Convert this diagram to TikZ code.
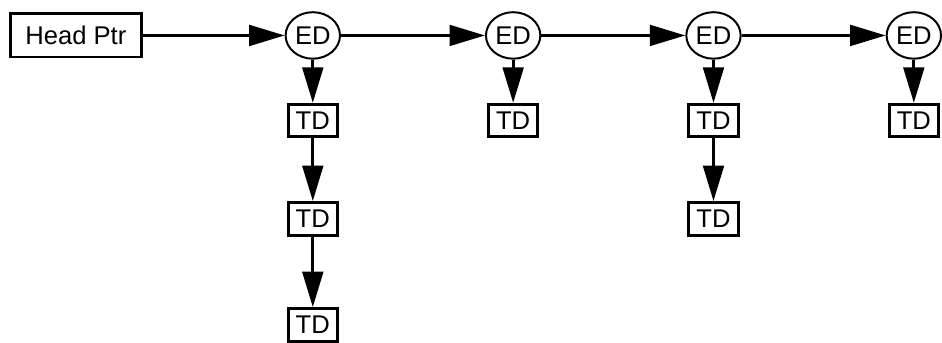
\documentclass[tikz,border=0pt]{standalone}
\usepackage{fontspec}
\setmainfont{Liberation Sans}
\usetikzlibrary{positioning,arrows.meta,shapes.geometric}
\tikzset{
  lbl/.style={font=\fontsize{13}{15}\selectfont, inner sep=0pt},
  ptrbox/.style={lbl, draw, line width=1.5pt, minimum width=23.4mm,
                 minimum height=7.7mm},
  edesc/.style={lbl, draw, ellipse, line width=1pt, minimum width=9.7mm,
                minimum height=8.3mm},
  tdesc/.style={lbl, draw, line width=1.5pt, minimum width=8.8mm,
                minimum height=5.8mm},
  link/.style={-{Triangle[length=18pt,width=10.5pt]}, line width=1.5pt},
}

\begin{document}
\begin{tikzpicture}

%% ── head pointer and the endpoint list ──────────────────────────────────
\node[ptrbox] (head) {Head Ptr};
\node[edesc, right=25.3mm of head] (ed1) {ED};
\node[edesc, right=25.7mm of ed1] (ed2) {ED};
\node[edesc, right=25.7mm of ed2] (ed3) {ED};
\node[edesc, right=25.7mm of ed3] (ed4) {ED};

\draw[link] (head) -- (ed1);
\draw[link] (ed1) -- (ed2);
\draw[link] (ed2) -- (ed3);
\draw[link] (ed3) -- (ed4);

%% ── transfer descriptors queued under each endpoint ─────────────────────
\node[tdesc, below=7.7mm of ed1] (td11) {TD};
\node[tdesc, below=11.2mm of td11] (td12) {TD};
\node[tdesc, below=12.6mm of td12] (td13) {TD};
\node[tdesc, below=7.7mm of ed2] (td21) {TD};
\node[tdesc, below=7.7mm of ed3] (td31) {TD};
\node[tdesc, below=11.2mm of td31] (td32) {TD};
\node[tdesc, below=7.7mm of ed4] (td41) {TD};

\draw[link] (ed1) -- (td11);
\draw[link] (td11) -- (td12);
\draw[link] (td12) -- (td13);
\draw[link] (ed2) -- (td21);
\draw[link] (ed3) -- (td31);
\draw[link] (td31) -- (td32);
\draw[link] (ed4) -- (td41);

%% page = the 942 x 338 frame of the original
\useasboundingbox (head.center) ++(-38.5pt,18pt) rectangle ++(471pt,-169pt);

\end{tikzpicture}
\end{document}
